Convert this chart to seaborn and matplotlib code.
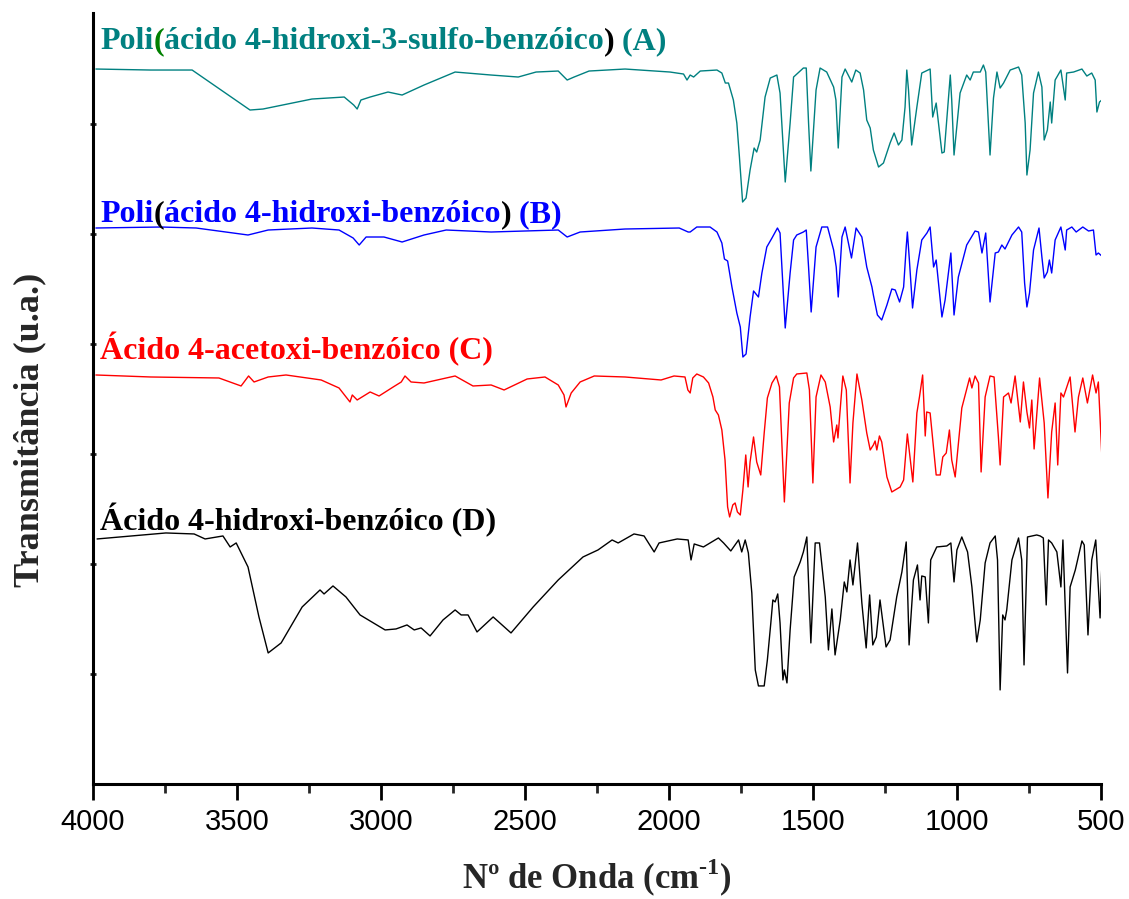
import seaborn as sns
import matplotlib.pyplot as plt
import pandas as pd

# FTIR spectra, transmittance in arbitrary units (already stacked)
wn_a = [3990, 3800, 3656, 3455, 3410, 3240, 3128, 3095, 3083, 3070, 3038, 2976, 2927, 2851, 2743,
        2618, 2524, 2462, 2385, 2354, 2330, 2278, 2153, 1997, 1950, 1938, 1927, 1915, 1892, 1834,
        1817, 1805, 1794, 1777, 1765, 1756, 1745, 1733, 1719, 1705, 1696, 1684, 1667, 1649, 1626,
        1615, 1597, 1580, 1568, 1534, 1524, 1516, 1508, 1490, 1476, 1453, 1429, 1421, 1413, 1400,
        1389, 1366, 1352, 1337, 1325, 1314, 1302, 1291, 1273, 1256, 1233, 1219, 1204, 1192, 1181,
        1175, 1169, 1158, 1140, 1123, 1094, 1085, 1073, 1053, 1045, 1024, 1019, 1011, 990, 967,
        955, 944, 920, 909, 901, 886, 874, 862, 851, 839, 816, 787, 776, 764, 758,
        747, 735, 718, 706, 698, 687, 677, 672, 660, 640, 625, 620, 596, 567, 550,
        533, 521, 515, 506, 498]
t_a = [715, 714, 714, 674, 675, 685, 687, 679, 675, 684, 687, 692, 689, 699, 712,
       709, 707, 712, 713, 704, 707, 713, 715, 712, 710, 704, 709, 707, 713, 714,
       711, 701, 701, 684, 661, 627, 582, 586, 614, 636, 632, 644, 687, 706, 709,
       691, 602, 661, 707, 716, 716, 661, 613, 694, 716, 712, 697, 684, 636, 707,
       715, 702, 714, 711, 694, 664, 656, 634, 617, 621, 641, 651, 639, 644, 677,
       714, 694, 639, 677, 711, 715, 667, 681, 631, 632, 709, 684, 629, 691, 709,
       704, 712, 712, 719, 712, 629, 686, 712, 696, 701, 714, 717, 709, 661, 609,
       634, 691, 712, 697, 644, 654, 682, 661, 704, 714, 684, 711, 712, 715, 708,
       711, 704, 672, 682, 684]

wn_b = [3990, 3764, 3642, 3462, 3392, 3240, 3146, 3097, 3076, 3052, 2990, 2927, 2851, 2774, 2618,
        2385, 2354, 2309, 2153, 1965, 1934, 1927, 1904, 1858, 1834, 1817, 1808, 1797, 1782, 1765,
        1753, 1744, 1733, 1719, 1707, 1690, 1678, 1661, 1643, 1624, 1615, 1597, 1580, 1568, 1557,
        1534, 1524, 1516, 1507, 1490, 1470, 1450, 1429, 1420, 1413, 1400, 1389, 1367, 1351, 1331,
        1314, 1296, 1291, 1277, 1262, 1244, 1227, 1215, 1200, 1186, 1177, 1173, 1166, 1155, 1140,
        1123, 1105, 1094, 1082, 1073, 1053, 1042, 1022, 1011, 996, 967, 938, 926, 914, 901,
        886, 868, 857, 845, 834, 810, 787, 776, 766, 758, 749, 735, 716, 706, 698,
        687, 680, 672, 660, 640, 625, 620, 602, 587, 564, 544, 527, 518, 510, 498]
t_b = [556, 557, 556, 549, 554, 556, 554, 546, 539, 547, 547, 542, 549, 554, 552,
       554, 547, 552, 555, 556, 552, 552, 557, 557, 552, 541, 525, 523, 497, 471,
       457, 427, 430, 467, 493, 487, 511, 537, 546, 556, 551, 456, 511, 544, 549,
       552, 554, 517, 472, 537, 557, 557, 534, 517, 487, 547, 557, 526, 556, 547,
       517, 497, 489, 469, 464, 479, 495, 494, 482, 497, 537, 552, 524, 476, 514,
       544, 551, 557, 517, 524, 467, 484, 531, 469, 507, 539, 553, 552, 531, 551,
       482, 531, 532, 539, 535, 549, 557, 552, 501, 477, 491, 534, 556, 527, 506,
       512, 524, 511, 544, 557, 534, 554, 557, 552, 557, 553, 554, 529, 531, 528]

wn_c = [3990, 3800, 3563, 3486, 3460, 3441, 3392, 3330, 3208, 3146, 3108, 3100, 3083, 3038, 3007,
        2958, 2930, 2917, 2896, 2851, 2774, 2743, 2681, 2618, 2573, 2493, 2431, 2385, 2365, 2358,
        2340, 2309, 2260, 2153, 2028, 1983, 1945, 1935, 1927, 1918, 1904, 1881, 1863, 1848, 1840,
        1829, 1817, 1806, 1797, 1790, 1779, 1771, 1763, 1753, 1744, 1734, 1726, 1719, 1707, 1696,
        1682, 1670, 1659, 1643, 1628, 1617, 1600, 1583, 1568, 1557, 1522, 1513, 1501, 1490, 1473,
        1458, 1441, 1429, 1418, 1414, 1397, 1385, 1372, 1362, 1348, 1331, 1314, 1302, 1291, 1285,
        1279, 1270, 1262, 1244, 1227, 1198, 1186, 1173, 1154, 1140, 1131, 1120, 1111, 1106, 1094,
        1073, 1059, 1050, 1038, 1027, 1019, 1007, 984, 957, 949, 938, 926, 917, 903, 886,
        872, 857, 851, 839, 822, 813, 799, 781, 770, 758, 749, 741, 733, 714, 698,
        685, 672, 660, 651, 640, 631, 608, 591, 579, 564, 548, 530, 518, 510, 498]
t_c = [409, 407, 406, 398, 408, 402, 407, 409, 404, 396, 382, 389, 384, 392, 388,
       397, 402, 408, 402, 401, 406, 408, 398, 399, 394, 405, 407, 399, 389, 377,
       391, 402, 408, 407, 404, 408, 407, 394, 391, 406, 410, 407, 401, 387, 374,
       369, 354, 324, 277, 267, 279, 281, 272, 269, 294, 329, 297, 322, 347, 322,
       309, 351, 386, 401, 408, 397, 282, 381, 406, 410, 411, 394, 301, 387, 409,
       402, 377, 342, 359, 346, 408, 394, 301, 361, 410, 384, 351, 334, 339, 343,
       334, 348, 342, 307, 292, 297, 304, 350, 302, 371, 387, 409, 348, 372, 371,
       309, 309, 327, 331, 354, 324, 307, 376, 406, 396, 408, 401, 312, 387, 408,
       407, 347, 319, 387, 391, 381, 408, 362, 402, 372, 356, 384, 335, 406, 361,
       286, 352, 381, 319, 391, 387, 407, 352, 387, 406, 381, 409, 391, 402, 329]

wn_d = [3986, 3747, 3649, 3611, 3549, 3524, 3503, 3462, 3424, 3392, 3347, 3274, 3212, 3198, 3167,
        3122, 3073, 2986, 2948, 2910, 2885, 2861, 2830, 2785, 2743, 2722, 2698, 2667, 2611, 2549,
        2472, 2385, 2299, 2247, 2198, 2177, 2122, 2087, 2052, 2035, 1972, 1934, 1924, 1913, 1881,
        1852, 1829, 1811, 1786, 1759, 1748, 1736, 1725, 1713, 1701, 1690, 1670, 1659, 1647, 1640,
        1632, 1623, 1615, 1605, 1600, 1591, 1580, 1566, 1545, 1534, 1522, 1508, 1493, 1478, 1458,
        1447, 1435, 1424, 1406, 1392, 1383, 1372, 1362, 1346, 1331, 1316, 1304, 1293, 1281, 1268,
        1247, 1233, 1210, 1192, 1177, 1167, 1152, 1138, 1129, 1123, 1111, 1100, 1092, 1071, 1036,
        1022, 1011, 1001, 984, 964, 949, 932, 920, 903, 886, 868, 860, 851, 842, 834,
        828, 810, 787, 776, 768, 756, 724, 712, 701, 691, 683, 672, 654, 640, 633,
        617, 608, 590, 567, 559, 546, 533, 519, 504, 498]
t_d = [245, 251, 250, 245, 248, 237, 241, 217, 167, 131, 141, 177, 194, 190, 198,
       187, 169, 154, 155, 159, 154, 156, 148, 164, 174, 169, 169, 152, 167, 151,
       177, 204, 227, 234, 244, 241, 250, 248, 232, 241, 245, 244, 224, 240, 237,
       242, 246, 241, 233, 244, 232, 244, 231, 191, 114, 98, 98, 124, 161, 184,
       182, 190, 161, 104, 114, 101, 154, 207, 222, 232, 247, 141, 241, 241, 187,
       134, 175, 129, 164, 202, 192, 224, 199, 241, 181, 136, 189, 139, 147, 184,
       137, 144, 187, 212, 242, 139, 204, 219, 184, 208, 207, 161, 224, 237, 238,
       241, 202, 234, 247, 232, 197, 142, 164, 221, 241, 248, 224, 94, 169, 164,
       174, 224, 246, 224, 119, 247, 249, 248, 246, 179, 244, 241, 232, 197, 244,
       111, 197, 214, 243, 239, 149, 224, 244, 166, 217]

series = [
    (wn_a, t_a, '#008080'),
    (wn_b, t_b, '#0000ff'),
    (wn_c, t_c, '#ff0000'),
    (wn_d, t_d, '#000000'),
]

sns.set_theme(style='ticks')
plt.rcParams['font.family'] = ['Liberation Sans', 'DejaVu Sans']
plt.rcParams['mathtext.fontset'] = 'custom'
plt.rcParams['mathtext.rm'] = 'Liberation Serif:bold'
plt.rcParams['mathtext.bf'] = 'Liberation Serif:bold'

fig = plt.figure(figsize=(11.29, 8.99), dpi=100)
ax = fig.add_axes([0.0824, 0.128, 0.893, 0.8575])

for wn, t, c in series:
    df = pd.DataFrame({'wn': wn, 't': t})
    sns.lineplot(data=df, x='wn', y='t', color=c, lw=1.0, ax=ax,
                 estimator=None, sort=False)

ax.set_xlim(4000, 500)
ax.set_ylim(0, 771)
ax.set_xticks(range(4000, 499, -500))
ax.set_xticks(range(3750, 500, -500), minor=True)
ax.set_yticks([110 * i for i in range(1, 7)])
ax.set_yticklabels([])
ax.tick_params(axis='x', which='major', direction='out', length=11.5, width=2,
               labelsize=21, pad=6, colors='black')
ax.tick_params(axis='x', which='minor', direction='out', length=6.5, width=2)
ax.tick_params(axis='y', which='major', direction='inout', length=5, width=2)
for s in ['top', 'right']:
    ax.spines[s].set_visible(False)
for s in ['left', 'bottom']:
    ax.spines[s].set_linewidth(2.2)
    ax.spines[s].set_color('black')

serif = {'family': 'Liberation Serif', 'weight': 'bold'}
ax.set_xlabel('Nº de Onda (cm$^{\\mathbf{\u2010}\\mathbf{1}}$)', fontdict=serif, fontsize=25)
ax.xaxis.set_label_coords(0.5, -0.094)
ax.set_ylabel('Transmitância (u.a.)', fontdict=serif, fontsize=26)
ax.yaxis.set_label_coords(-0.046, 0.459)


def label(x, y, parts, size=23):
    prev = ax.text(x, y, parts[0][0], color=parts[0][1], fontsize=size,
                   va='bottom', ha='left', **serif)
    for txt, col in parts[1:]:
        prev = ax.annotate(txt, xy=(1, 0), xycoords=prev, color=col, fontsize=size,
                           va='bottom', ha='left', **serif)


label(3976, 728, [('Poli', '#008080'), ('(', '#008000'),
                  ('ácido 4-hidroxi-3-sulfo-benzóico', '#008080'), (')', '#000000'),
                  (' (A)', '#008080')])
label(3976, 555, [('Poli', '#0000ff'), ('(', '#000000'),
                  ('ácido 4-hidroxi-benzóico', '#0000ff'), (')', '#000000'),
                  (' (B)', '#0000ff')])
label(3976, 418, [('Ácido 4-acetoxi-benzóico (C)', '#ff0000')])
label(3976, 247, [('Ácido 4-hidroxi-benzóico (D)', '#000000')])

fig.savefig('out.png', dpi=100)
